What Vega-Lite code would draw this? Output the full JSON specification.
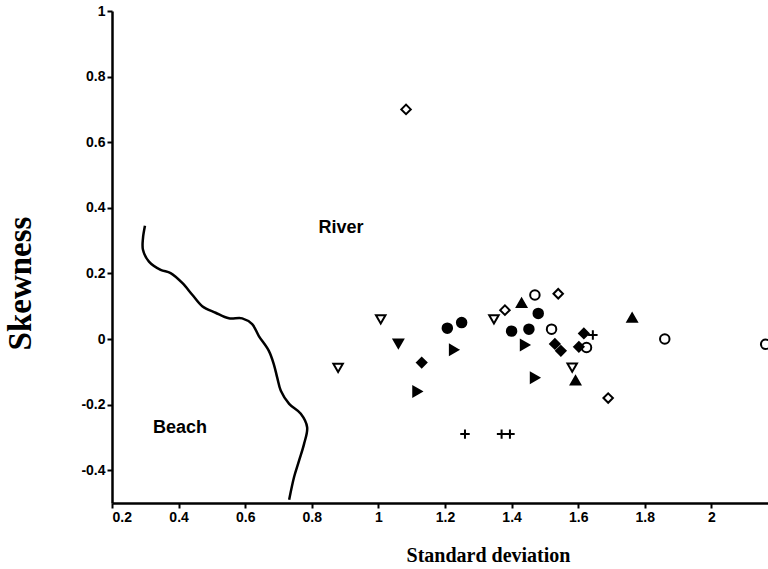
{
  "$schema": "https://vega.github.io/schema/vega-lite/v6.json",
  "width": 656,
  "height": 492,
  "autosize": {"type": "none"},
  "padding": {"left": 112, "top": 11, "right": 0, "bottom": 66},
  "background": "white",
  "config": {
    "view": {"stroke": null},
    "axis": {
      "grid": false,
      "domainColor": "black",
      "domainWidth": 2.5,
      "tickColor": "black",
      "tickWidth": 2,
      "tickSize": 5,
      "labelColor": "black",
      "titleColor": "black"
    }
  },
  "datasets": {
    "pts": [
      {"x": 1.083, "y": 0.70, "g": "oD"},
      {"x": 1.38, "y": 0.088, "g": "oD"},
      {"x": 1.54, "y": 0.138, "g": "oD"},
      {"x": 1.69, "y": -0.18, "g": "oD"},
      {"x": 1.47, "y": 0.134, "g": "oC"},
      {"x": 1.52, "y": 0.03, "g": "oC"},
      {"x": 1.625, "y": -0.026, "g": "oC"},
      {"x": 1.86, "y": 0.0, "g": "oC"},
      {"x": 2.163, "y": -0.016, "g": "oC"},
      {"x": 1.207, "y": 0.033, "g": "fC"},
      {"x": 1.25, "y": 0.05, "g": "fC"},
      {"x": 1.40, "y": 0.024, "g": "fC"},
      {"x": 1.452, "y": 0.03, "g": "fC"},
      {"x": 1.48, "y": 0.078, "g": "fC"},
      {"x": 1.53, "y": -0.015, "g": "fD"},
      {"x": 1.548, "y": -0.036, "g": "fD"},
      {"x": 1.43, "y": 0.11, "g": "fTU"},
      {"x": 1.762, "y": 0.065, "g": "fTU"},
      {"x": 1.592, "y": -0.126, "g": "fTU"},
      {"x": 1.117, "y": -0.16, "g": "fTR"},
      {"x": 1.227, "y": -0.033, "g": "fTR"},
      {"x": 1.44, "y": -0.018, "g": "fTR"},
      {"x": 1.47, "y": -0.118, "g": "fTR"},
      {"x": 0.879, "y": -0.088, "g": "oTD"},
      {"x": 1.007, "y": 0.06, "g": "oTD"},
      {"x": 1.347, "y": 0.06, "g": "oTD"},
      {"x": 1.582, "y": -0.087, "g": "oTD"},
      {"x": 1.06, "y": -0.014, "g": "fTD"},
      {"x": 1.13, "y": -0.072, "g": "fD"},
      {"x": 1.617, "y": 0.017, "g": "fD"},
      {"x": 1.602, "y": -0.024, "g": "fD"},
      {"x": 1.26, "y": -0.29, "g": "P"},
      {"x": 1.37, "y": -0.29, "g": "P"},
      {"x": 1.395, "y": -0.29, "g": "P"},
      {"x": 1.644, "y": 0.012, "g": "P"}
    ],
    "curve": [
      {"i": 1, "x": 0.299, "y": 0.345},
      {"i": 2, "x": 0.293, "y": 0.307},
      {"i": 3, "x": 0.293, "y": 0.272},
      {"i": 4, "x": 0.311, "y": 0.236},
      {"i": 5, "x": 0.346, "y": 0.211},
      {"i": 6, "x": 0.376, "y": 0.201},
      {"i": 7, "x": 0.411, "y": 0.171},
      {"i": 8, "x": 0.441, "y": 0.135},
      {"i": 9, "x": 0.471, "y": 0.1},
      {"i": 10, "x": 0.511, "y": 0.08},
      {"i": 11, "x": 0.551, "y": 0.063},
      {"i": 12, "x": 0.591, "y": 0.063},
      {"i": 13, "x": 0.621, "y": 0.045},
      {"i": 14, "x": 0.641, "y": 0.009},
      {"i": 15, "x": 0.671, "y": -0.036},
      {"i": 16, "x": 0.686, "y": -0.077},
      {"i": 17, "x": 0.696, "y": -0.117},
      {"i": 18, "x": 0.707, "y": -0.158},
      {"i": 19, "x": 0.732, "y": -0.198},
      {"i": 20, "x": 0.767, "y": -0.228},
      {"i": 21, "x": 0.786, "y": -0.269},
      {"i": 22, "x": 0.777, "y": -0.319},
      {"i": 23, "x": 0.762, "y": -0.37},
      {"i": 24, "x": 0.747, "y": -0.42},
      {"i": 25, "x": 0.732, "y": -0.49}
    ],
    "labels": [
      {"x": 0.888, "y": 0.339, "label": "River"},
      {"x": 0.404, "y": -0.27, "label": "Beach"}
    ]
  },
  "encoding": {
    "x": {
      "field": "x",
      "type": "quantitative",
      "scale": {"domain": [0.2, 2.17], "nice": false, "zero": false},
      "axis": {
        "values": [0.2, 0.4, 0.6, 0.8, 1, 1.2, 1.4, 1.6, 1.8, 2],
        "labelExpr": "format(datum.value, '~g')",
        "labelFont": "Liberation Sans",
        "labelFontWeight": "bold",
        "labelFontSize": 14,
        "labelPadding": 2,
        "title": "Standard deviation",
        "titleFont": "Liberation Serif",
        "titleFontSize": 20,
        "titleFontWeight": "bold",
        "titleX": 376,
        "titleY": 58,
        "titleAlign": "center",
        "titleBaseline": "alphabetic"
      }
    },
    "y": {
      "field": "y",
      "type": "quantitative",
      "scale": {"domain": [-0.5, 1], "nice": false, "zero": false},
      "axis": {
        "values": [-0.4, -0.2, 0, 0.2, 0.4, 0.6, 0.8, 1],
        "labelExpr": "replace(format(datum.value, '~g'), '\u2212', '-')",
        "labelFont": "Liberation Sans",
        "labelFontWeight": "bold",
        "labelFontSize": 14,
        "labelPadding": 2,
        "title": "Skewness",
        "titleFont": "Liberation Serif",
        "titleFontSize": 33,
        "titleFontWeight": "bold",
        "titleAngle": -90,
        "titleX": -92,
        "titleY": 272,
        "titleAlign": "center",
        "titleBaseline": "middle"
      }
    }
  },
  "layer": [
    {
      "data": {"name": "curve"},
      "mark": {"type": "line", "color": "black", "strokeWidth": 2.5, "clip": true, "interpolate": "catmull-rom"},
      "encoding": {"order": {"field": "i", "type": "quantitative"}}
    },
    {
      "data": {"name": "pts"},
      "mark": {"type": "point", "filled": true, "stroke": "black", "strokeWidth": 2, "opacity": 1, "size": 90, "clip": true},
      "encoding": {
        "shape": {
          "field": "g",
          "type": "nominal",
          "scale": {
            "domain": ["oD", "oC", "fC", "fTU", "fTR", "oTD", "fTD", "fD", "P"],
            "range": ["diamond", "circle", "circle", "triangle-up", "triangle-right", "triangle-down", "triangle-down", "diamond", "M-1,0H1M0,-1V1"]
          },
          "legend": null
        },
        "fill": {
          "field": "g",
          "type": "nominal",
          "scale": {
            "domain": ["oD", "oC", "fC", "fTU", "fTR", "oTD", "fTD", "fD", "P"],
            "range": ["white", "white", "black", "black", "black", "white", "black", "black", "white"]
          },
          "legend": null
        }
      }
    },
    {
      "data": {"name": "labels"},
      "mark": {"type": "text", "font": "Liberation Sans", "fontSize": 18, "fontWeight": "bold", "color": "black", "align": "center", "baseline": "middle"},
      "encoding": {"text": {"field": "label", "type": "nominal"}}
    }
  ]
}
